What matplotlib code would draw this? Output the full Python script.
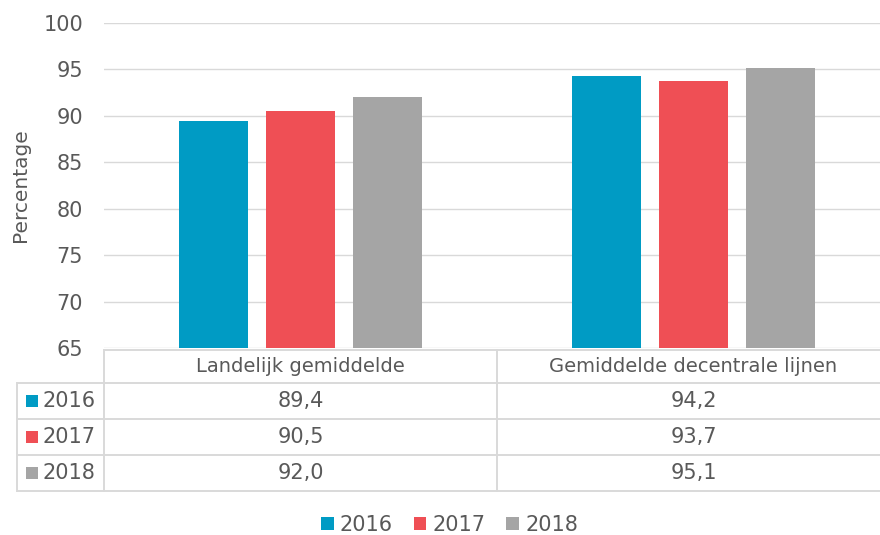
import matplotlib.pyplot as plt
import numpy as np

categories = ['Landelijk gemiddelde', 'Gemiddelde decentrale lijnen']
years = ['2016', '2017', '2018']
v2016 = [89.4, 94.2]
v2017 = [90.5, 93.7]
v2018 = [92.0, 95.1]
series = [v2016, v2017, v2018]
colors = ['#009BC4', '#EF4F55', '#A5A5A5']

txt = '#595959'
lijn = '#D9D9D9'
plt.rcParams['font.family'] = ['DejaVu Sans']

W, H = 880, 535
fig = plt.figure(figsize=(8.8, 5.35), dpi=100)

# plot area in pixels: x 104..890, y 23..348
ax = fig.add_axes([104 / W, 1 - 348 / H, 786 / W, 325.5 / H])
x = np.arange(len(categories))
breedte = 0.1756
stap = 0.2214
bars = []
for i, (vals, col) in enumerate(zip(series, colors)):
    b = ax.bar(x + (i - 1) * stap, vals, breedte, color=col, label=years[i], zorder=2)
    bars.append(b)

ax.set_xlim(-0.5, len(categories) - 0.5)
ax.set_ylim(65, 100)
ax.set_yticks(np.arange(65, 101, 5))
ax.set_xticks([])
ax.tick_params(axis='y', length=0, pad=15, labelsize=15, labelcolor=txt)
ax.grid(axis='y', color=lijn, linewidth=1.0, zorder=0)
for s in ax.spines.values():
    s.set_visible(False)
ax.set_ylabel('Percentage', fontsize=14.5, color=txt)
ax.yaxis.set_label_coords(-0.094, 0.5)

# data table below the plot, drawn in pixel coordinates
tab = fig.add_axes([0, 0, 1, 1])
tab.set_xlim(0, W)
tab.set_ylim(H, 0)
tab.axis('off')
tab.patch.set_alpha(0)

def px(xd):
    # data x of the main axes -> figure pixel x
    return 104 + (xd + 0.5) * 393

rij_y = [350, 383, 419, 455, 491]
lw = 1.4
tab.plot([104, W], [rij_y[0]] * 2, color=lijn, lw=lw, solid_capstyle='butt')
for yy in rij_y[1:]:
    tab.plot([17, W], [yy, yy], color=lijn, lw=lw, solid_capstyle='butt')
tab.plot([17, 17], [rij_y[1], rij_y[-1]], color=lijn, lw=lw)
for k in range(len(categories)):
    xl = px(k - 0.5)
    tab.plot([xl, xl], [rij_y[0], rij_y[-1]], color=lijn, lw=lw)

for k, cat in enumerate(categories):
    tab.text(px(k), (rij_y[0] + rij_y[1]) / 2, cat, ha='center', va='center',
             fontsize=14, color=txt)

for i, (vals, col) in enumerate(zip(series, colors)):
    yc = (rij_y[i + 1] + rij_y[i + 2]) / 2
    tab.add_patch(plt.Rectangle((26, yc - 6), 12, 12, color=col, lw=0))
    tab.text(43, yc, years[i], ha='left', va='center', fontsize=15, color=txt)
    for k, v in enumerate(vals):
        tab.text(px(k), yc, f'{v:.1f}'.replace('.', ','), ha='center', va='center',
                 fontsize=15, color=txt)

leg = fig.legend(handles=bars, labels=years, loc='center', ncol=3,
                 bbox_to_anchor=(449.5 / W, 1 - 525 / H), frameon=False,
                 fontsize=15, handlelength=0.6, handleheight=0.6,
                 handletextpad=0.3, columnspacing=1.0, borderpad=0)
for t in leg.get_texts():
    t.set_color(txt)

fig.savefig('out.png', dpi=100)
